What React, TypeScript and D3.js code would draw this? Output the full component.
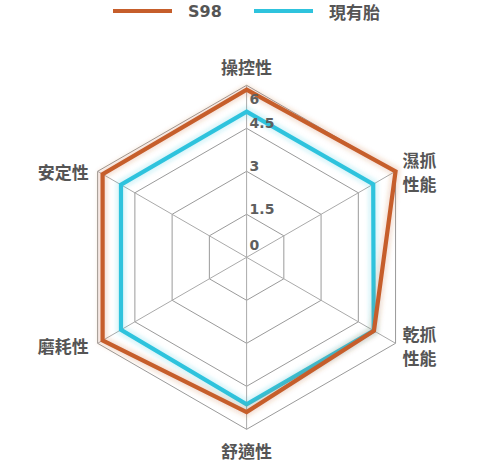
import React from 'react';
import * as d3 from 'd3';

// axes, clockwise from top
const categories: string[][] = [
  ['操控性'],
  ['濕抓', '性能'],
  ['乾抓', '性能'],
  ['舒適性'],
  ['磨耗性'],
  ['安定性'],
];

const seriesNames = ['S98', '現有胎'];
const s98Values = [5.85, 6, 5.13, 5.4, 5.8, 5.8];
const currentValues = [5.08, 5.1, 5.12, 5.13, 5.06, 5.06];
const tickValues = [0, 1.5, 3, 4.5, 6];

const W = 495;
const H = 466;
const cx = 246.6;
const cy = 257.3;
const R = 172;

const COLORS = ['#c65e2b', '#2ec3dd'];
const LATIN = '"DejaVu Sans", "Noto Sans", sans-serif';
const CJK = '"Noto Sans CJK TC", "Noto Sans", sans-serif';

export default function App() {
  const r = d3.scaleLinear().domain([0, 6]).range([0, R]);
  const angle = d3.scaleLinear().domain([0, categories.length]).range([-Math.PI / 2, (3 * Math.PI) / 2]);

  const pt = (i: number, v: number): [number, number] => [
    cx + r(v) * Math.cos(angle(i)),
    cy + r(v) * Math.sin(angle(i)),
  ];

  const closed = d3.line().curve(d3.curveLinearClosed);
  const ring = (v: number) => closed(categories.map((_, i) => pt(i, v))) || '';

  // drawn in reverse so S98 ends up on top
  const series = [
    { name: seriesNames[1], values: currentValues, color: COLORS[1] },
    { name: seriesNames[0], values: s98Values, color: COLORS[0] },
  ];

  return (
    <svg width={W} height={H} style={{ position: 'absolute', left: 0, top: 0, background: '#fff' }}>
      <defs>
        <filter id="glow" x="-20%" y="-20%" width="140%" height="140%">
          <feGaussianBlur stdDeviation="2" />
        </filter>
      </defs>

      {/* legend */}
      <g>
        <line x1={113} x2={172} y1={11} y2={11} stroke={COLORS[0]} strokeWidth={4} />
        <text x={188} y={11} dominantBaseline="central" fontFamily={LATIN} fontWeight={700} fontSize={16} fill="#555">
          {seriesNames[0]}
        </text>
        <line x1={254} x2={313} y1={11} y2={11} stroke={COLORS[1]} strokeWidth={4} />
        <text x={329} y={11} dominantBaseline="central" fontFamily={CJK} fontWeight={700} fontSize={17} fill="#555">
          {seriesNames[1]}
        </text>
      </g>

      {/* grid rings */}
      {tickValues.slice(1).map(t => (
        <path key={t} d={ring(t)} fill="none" stroke="#9a9a9a" strokeWidth={1} />
      ))}
      {/* spokes */}
      {categories.map((_, i) => {
        const [x, y] = pt(i, 6);
        return <line key={i} x1={cx} y1={cy} x2={x} y2={y} stroke="#aaa" strokeWidth={1} />;
      })}

      {/* series */}
      {series.map(s => {
        const d = closed(s.values.map((v, i) => pt(i, v))) || '';
        return (
          <g key={s.name}>
            <path d={d} fill="none" stroke={s.color} strokeOpacity={0.2} strokeWidth={9} filter="url(#glow)" />
            <path d={d} fill="none" stroke={s.color} strokeWidth={4.2} />
          </g>
        );
      })}

      {/* tick labels */}
      {tickValues.map(t => {
        const shift = t === 6 ? 19 : t === 0 ? -7 : 0;
        return (
          <text key={t} x={cx + 3} y={cy - r(t) + shift} fontFamily={LATIN} fontWeight={700} fontSize={14} fill="#5e5e5e">
            {t}
          </text>
        );
      })}

      {/* category labels */}
      {categories.map((lines, i) => {
        const a = angle(i);
        const [vx, vy] = pt(i, 6);
        const c = Math.cos(a);
        const sn = Math.sin(a);
        let anchor: 'start' | 'middle' | 'end' = 'middle';
        let x = vx;
        let y = vy;
        if (Math.abs(c) < 0.01) {
          y = vy + (sn < 0 ? -19 : 21.5);
        } else {
          anchor = c > 0 ? 'start' : 'end';
          x = vx + (c > 0 ? 7 : -9);
          y = vy + (sn > 0 ? 2 : 0);
        }
        const lh = 24.5;
        const top = y - ((lines.length - 1) * lh) / 2;
        return (
          <text key={i} textAnchor={anchor} fontFamily={CJK} fontWeight={700} fontSize={17} fill="#555">
            {lines.map((l, j) => (
              <tspan key={j} x={x} y={top + j * lh} dominantBaseline="central">
                {l}
              </tspan>
            ))}
          </text>
        );
      })}
    </svg>
  );
}
